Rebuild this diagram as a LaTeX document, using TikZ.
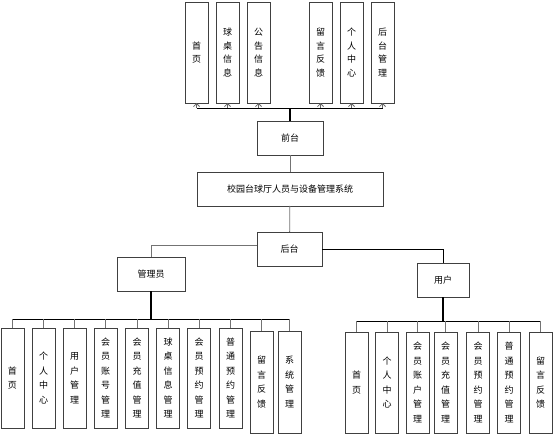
\documentclass[tikz,border=0pt]{standalone}
\usepackage{fontspec}
\newfontfamily\cjkfont{Noto Sans CJK SC}
\usetikzlibrary{arrows.meta,positioning}
\XeTeXlinebreaklocale "zh"
\XeTeXlinebreakskip=1.8pt plus 0pt

\begin{document}
\begin{tikzpicture}[
    x=1pt, y=-1pt,
    node distance=8pt,
    box/.style={draw=black!75, line width=0.9pt, minimum height=34pt, inner sep=0pt, outer sep=0pt, font=\cjkfont\fontsize{9}{11}\selectfont},
    col/.style={draw=black!75, line width=0.9pt, minimum width=23pt, minimum height=101pt, inner sep=0pt, outer sep=0pt, align=center, font=\cjkfont\fontsize{9}{13.5}\selectfont},
    leaf/.style={col, minimum height=100pt, font=\cjkfont\fontsize{9}{14.5}\selectfont},
    bus/.style={black, line width=0.8pt},
    drop/.style={black!55, line width=0.8pt},
    uparrow/.style={black!60, line width=0.8pt, -{Straight Barb[length=3pt,width=6pt]}},
]
\useasboundingbox (0,0) rectangle (555,436);

% Front end
\node[box, minimum width=66pt] (front) at (290,138) {前台};
\node[col] (t1) at (196.5,52.5) {首\\页};
\node[col, right=of t1] (t2) {球\\桌\\信\\息};
\node[col, right=of t2] (t3) {公\\告\\信\\息};
\node[col, right=39pt of t3] (t4) {留\\言\\反\\馈};
\node[col, right=of t4] (t5) {个\\人\\中\\心};
\node[col, right=of t5] (t6) {后\\台\\管\\理};
\coordinate (topbus) at (0,108);

% System and back end
\node[box, minimum width=186pt] (sys) at (290,189) {校园台球厅人员与设备管理系统};
\node[box, minimum width=65pt] (back) at (289.5,249) {后台};
\node[box, minimum width=68pt] (admin) at (151,274) {管理员};
\node[box, minimum width=52pt] (user) at (443,280) {用户};

% Admin leaves
\node[leaf] (a1) at (12.5,378) {首\\页};
\node[leaf, right=of a1] (a2) {个\\人\\中\\心};
\node[leaf, right=of a2] (a3) {用\\户\\管\\理};
\node[leaf, right=of a3] (a4) {会\\员\\账\\号\\管\\理};
\node[leaf, right=8.5pt of a4] (a5) {会\\员\\充\\值\\管\\理};
\node[leaf, right=of a5] (a6) {球\\桌\\信\\息\\管\\理};
\node[leaf, right=of a6] (a7) {会\\员\\预\\约\\管\\理};
\node[leaf, right=8.5pt of a7] (a8) {普\\通\\预\\约\\管\\理};
\node[leaf, minimum height=102pt, right=of a8, yshift=-4pt] (a9) {留\\言\\反\\馈};
\node[leaf, minimum height=102pt, right=5pt of a9] (a10) {系\\统\\管\\理};
\coordinate (abus) at (0,319);

% User leaves
\node[leaf, minimum height=101pt] (u1) at (356.5,382.5) {首\\页};
\node[leaf, minimum height=101pt, right=7.5pt of u1] (u2) {个\\人\\中\\心};
\node[leaf, minimum height=101pt, right=7.5pt of u2] (u3) {会\\员\\账\\户\\管\\理};
\node[leaf, minimum height=101pt, right=5pt of u3] (u4) {会\\员\\充\\值\\管\\理};
\node[leaf, minimum height=101pt, right=9.5pt of u4] (u5) {会\\员\\预\\约\\管\\理};
\node[leaf, minimum height=101pt, right=of u5] (u6) {普\\通\\预\\约\\管\\理};
\node[leaf, minimum height=101pt, right=8.5pt of u6] (u7) {留\\言\\反\\馈};
\coordinate (ubus) at (0,321);

% Connectors
\draw[black, line width=1.6pt] (front.north) -- (front.north |- topbus);
\draw[bus] (t1.south |- topbus) -- (t6.south |- topbus);
\foreach \n in {t1,t2,t3,t4,t5,t6}
    \draw[uparrow] (\n.south |- topbus) -- (\n.south);
\draw[drop] (front) -- (sys);
\draw[drop] (sys) -- (back);
\draw[drop] (back.west |- 0,245) -| (admin.north);
\draw[black, line width=0.6pt] (back.east) -| (user.north);
\draw[black, line width=1.2pt] (admin.south) -- (admin.south |- abus);
\draw[black, line width=1.2pt] (user.south) -- (user.south |- ubus);
\draw[bus] (a1.north |- abus) -- (a10.north |- abus);
\draw[bus] (u1.north |- ubus) -- (u7.north |- ubus);
\foreach \n in {a1,a2,a3,a4,a5,a6,a7,a8,a9,a10}
    \draw[drop] (\n.north |- abus) -- (\n.north);
\foreach \n in {u1,u2,u3,u4,u5,u6,u7}
    \draw[drop] (\n.north |- ubus) -- (\n.north);

\end{tikzpicture}
\end{document}
